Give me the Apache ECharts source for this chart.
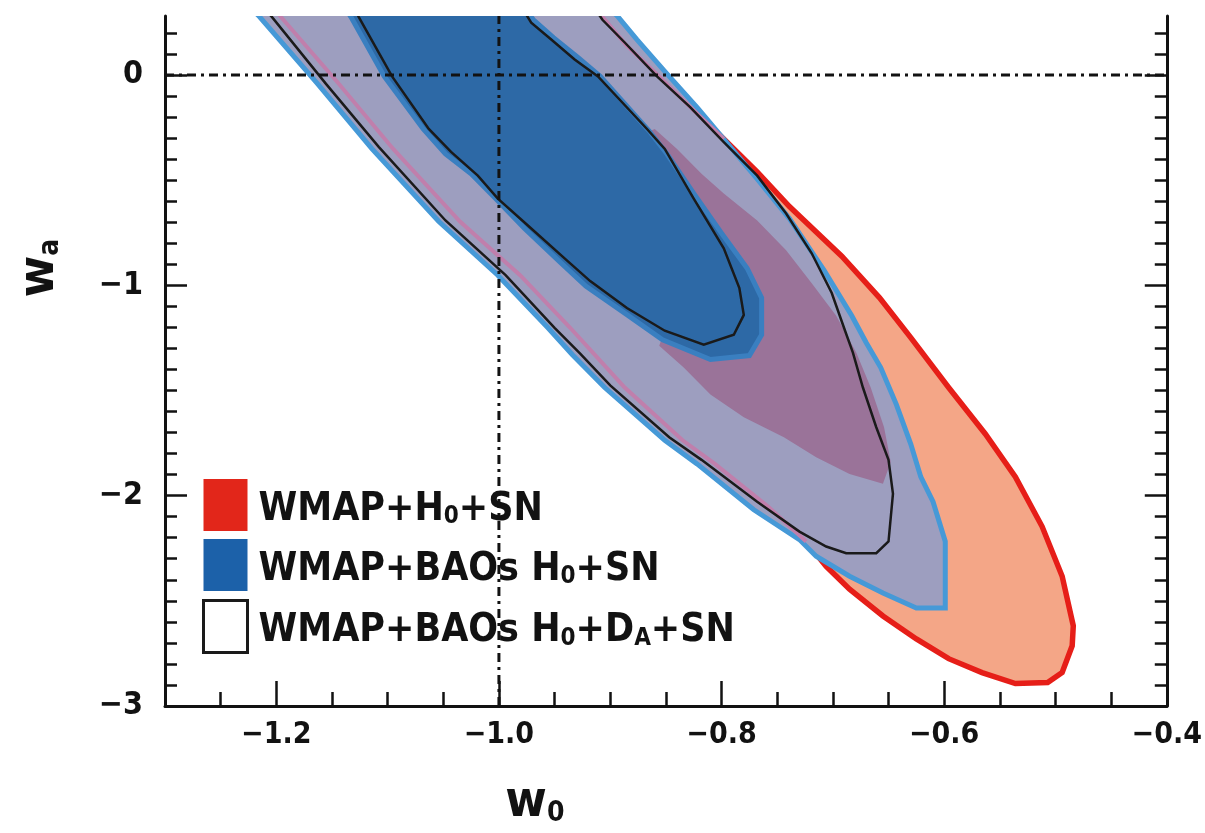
<!DOCTYPE html>
<html>
<head>
<meta charset="utf-8">
<script src="https://cdn.jsdelivr.net/npm/echarts@6/dist/echarts.min.js"></script>
<style>
html,body{margin:0;padding:0;background:#fff;}
#chart{width:1205px;height:833px;}
</style>
</head>
<body>
<div id="chart"></div>
<script>
// ---- axis ranges and ticks ----
const X_MIN = -1.3, X_MAX = -0.4;
const Y_MIN = -3, Y_MAX = 0.28;
const W0_MAJOR = [-1.2, -1.0, -0.8, -0.6, -0.4];
const WA_MAJOR = [-3, -2, -1, 0];
const W0_MINOR_STEP = 0.05;
const WA_MINOR_STEP = 0.1;

// ---- reference lines ----
const REF_W0 = -1.0;
const REF_WA = 0.0;

// ---- legend ----
const LEGEND_NAMES = ['WMAP+H0+SN', 'WMAP+BAOs H0+SN', 'WMAP+BAOs H0+DA+SN'];

// ---- contour boundaries [w0, wa] ----
// WMAP+H0+SN, 95% region
const red95 = [
  [-1.201, 0.309], [-1.196, 0.276], [-1.145, -0.035], [-1.095, -0.352], [-1.035, -0.697],
  [-0.981, -0.952], [-0.936, -1.202], [-0.914, -1.330], [-0.887, -1.486], [-0.835, -1.737],
  [-0.806, -1.849], [-0.758, -2.053], [-0.724, -2.218], [-0.706, -2.336], [-0.685, -2.445],
  [-0.655, -2.572], [-0.625, -2.681], [-0.596, -2.775], [-0.566, -2.841], [-0.536, -2.893],
  [-0.507, -2.888], [-0.494, -2.841], [-0.485, -2.714], [-0.484, -2.619], [-0.494, -2.383],
  [-0.512, -2.147], [-0.536, -1.911], [-0.563, -1.707], [-0.596, -1.486], [-0.630, -1.249],
  [-0.658, -1.060], [-0.692, -0.862], [-0.739, -0.626], [-0.768, -0.461], [-0.798, -0.305],
  [-0.826, -0.163], [-0.858, 0.002], [-0.886, 0.144], [-0.907, 0.276], [-0.911, 0.309]
];
// WMAP+H0+SN, 68% region (visible part)
const red68 = [
  [-0.831, -0.919], [-0.831, -0.683], [-0.853, -0.446], [-0.871, -0.281], [-0.860, -0.257],
  [-0.840, -0.352], [-0.818, -0.470], [-0.798, -0.564], [-0.768, -0.692], [-0.742, -0.834],
  [-0.719, -0.990], [-0.697, -1.145], [-0.679, -1.320], [-0.666, -1.486], [-0.654, -1.675],
  [-0.648, -1.840], [-0.655, -1.944], [-0.685, -1.897], [-0.715, -1.817], [-0.744, -1.722],
  [-0.780, -1.627], [-0.810, -1.519], [-0.834, -1.391], [-0.856, -1.287]
];
// WMAP+BAOs H0+SN, 95% region
const blue95 = [
  [-1.221, 0.309], [-1.215, 0.276], [-1.164, -0.035], [-1.114, -0.352], [-1.054, -0.697],
  [-1.001, -0.952], [-0.956, -1.202], [-0.934, -1.330], [-0.905, -1.486], [-0.851, -1.737],
  [-0.822, -1.849], [-0.771, -2.067], [-0.730, -2.209], [-0.715, -2.288], [-0.685, -2.383],
  [-0.655, -2.463], [-0.625, -2.534], [-0.599, -2.534], [-0.599, -2.218], [-0.610, -2.029],
  [-0.621, -1.911], [-0.630, -1.755], [-0.643, -1.566], [-0.657, -1.391], [-0.670, -1.273],
  [-0.683, -1.145], [-0.708, -0.928], [-0.739, -0.683], [-0.768, -0.494], [-0.798, -0.305],
  [-0.822, -0.154], [-0.851, 0.017], [-0.876, 0.168], [-0.893, 0.276], [-0.899, 0.309]
];
// WMAP+BAOs H0+SN, 68% region
const blue68 = [
  [-1.137, 0.309], [-1.133, 0.276], [-1.103, -0.007], [-1.068, -0.257], [-1.048, -0.376],
  [-1.025, -0.470], [-1.003, -0.588], [-0.977, -0.730], [-0.945, -0.890], [-0.922, -1.004],
  [-0.886, -1.136], [-0.853, -1.259], [-0.810, -1.353], [-0.775, -1.334], [-0.764, -1.235],
  [-0.764, -1.060], [-0.777, -0.919], [-0.800, -0.753], [-0.825, -0.564], [-0.849, -0.376],
  [-0.865, -0.267], [-0.909, -0.007], [-0.929, 0.083], [-0.951, 0.177], [-0.969, 0.262],
  [-0.976, 0.309]
];
// WMAP+BAOs H0+DA+SN, 95% contour
const black95 = [
  [-1.210, 0.309], [-1.204, 0.276], [-1.155, -0.045], [-1.108, -0.342], [-1.048, -0.692],
  [-0.994, -0.952], [-0.950, -1.202], [-0.927, -1.325], [-0.900, -1.476], [-0.847, -1.722],
  [-0.818, -1.830], [-0.768, -2.029], [-0.730, -2.171], [-0.706, -2.242], [-0.688, -2.274],
  [-0.661, -2.274], [-0.650, -2.218], [-0.646, -1.991], [-0.650, -1.830], [-0.661, -1.675],
  [-0.673, -1.486], [-0.682, -1.320], [-0.690, -1.202], [-0.701, -1.037], [-0.719, -0.848],
  [-0.742, -0.659], [-0.768, -0.479], [-0.798, -0.319], [-0.828, -0.154], [-0.858, -0.007],
  [-0.887, 0.154], [-0.907, 0.262], [-0.913, 0.309]
];
// WMAP+BAOs H0+DA+SN, 68% contour
const black68 = [
  [-1.129, 0.309], [-1.126, 0.276], [-1.096, -0.007], [-1.063, -0.257], [-1.043, -0.366],
  [-1.019, -0.479], [-1.001, -0.588], [-0.974, -0.716], [-0.941, -0.872], [-0.918, -0.980],
  [-0.885, -1.108], [-0.851, -1.216], [-0.816, -1.282], [-0.789, -1.235], [-0.780, -1.141],
  [-0.784, -1.013], [-0.798, -0.824], [-0.825, -0.588], [-0.851, -0.352], [-0.867, -0.257],
  [-0.911, -0.007], [-0.932, 0.073], [-0.953, 0.168], [-0.971, 0.248], [-0.978, 0.309]
];

// ---------------------------------------------------------------
const FONT = '"Liberation Sans Narrow","DejaVu Sans Condensed","Liberation Sans",Arial,sans-serif';
const INK = '#121212';

function stepTicks(a, b, step) {
  const out = [];
  const n = Math.round((b - a) / step);
  for (let i = 0; i <= n; i++) out.push(+(a + i * step).toFixed(3));
  return out;
}
const W0_MINOR = stepTicks(X_MIN, X_MAX, W0_MINOR_STEP);
const WA_MINOR = stepTicks(Y_MIN, 0.2, WA_MINOR_STEP);

function shapeSeries(name, pts, kind, style, z) {
  return {
    type: 'custom', name: name, coordinateSystem: 'cartesian2d',
    xAxisIndex: 0, yAxisIndex: 0, data: pts, encode: { x: 0, y: 1 },
    silent: true, clip: true, z: z, animation: false,
    renderItem: function (params, api) {
      if (params.dataIndex !== 0) return null;
      const cs = params.coordSys;
      const points = pts.map(function (p) { return api.coord(p); });
      return {
        type: kind,
        shape: { points: points },
        style: style,
        clipPath: { type: 'rect', shape: { x: cs.x, y: cs.y, width: cs.width, height: cs.height } }
      };
    }
  };
}

const series = [
  shapeSeries(LEGEND_NAMES[0], red95, 'polygon', { fill: '#F4A687', stroke: '#E61E18', lineWidth: 5.5 }, 1),
  shapeSeries(LEGEND_NAMES[1], blue95, 'polygon', { fill: '#9D9EBF', stroke: '#4699D7', lineWidth: 5 }, 2),
  shapeSeries('', red95.slice(0, 13), 'polyline', { fill: null, stroke: '#C07FAC', lineWidth: 4 }, 3),
  shapeSeries('', red95.slice(34), 'polyline', { fill: null, stroke: '#C07FAC', lineWidth: 4 }, 3),
  shapeSeries(LEGEND_NAMES[0], red68, 'polygon', { fill: '#9A7399' }, 4),
  shapeSeries(LEGEND_NAMES[1], blue68, 'polygon', { fill: '#2D69A6', stroke: '#3A7FC0', lineWidth: 5 }, 5),
  shapeSeries(LEGEND_NAMES[2], black95, 'polygon', { fill: null, stroke: '#1a1a1a', lineWidth: 2.5 }, 6),
  shapeSeries(LEGEND_NAMES[2], black68, 'polygon', { fill: null, stroke: '#1a1a1a', lineWidth: 2.5 }, 6),
  {
    type: 'line', name: 'refw0', data: [[REF_W0, Y_MIN], [REF_W0, Y_MAX]], symbol: 'none', silent: true,
    z: 8, animation: false, lineStyle: { color: INK, width: 3, type: [9, 5, 3, 5] }
  },
  {
    type: 'line', name: 'refwa', data: [[X_MIN, REF_WA], [X_MAX, REF_WA]], symbol: 'none', silent: true,
    z: 8, animation: false, lineStyle: { color: INK, width: 3, type: [9, 5, 3, 5] }
  }
];

const minus = function (v) { return v < 0 ? '\u2212' + Math.abs(v) : String(v); };

const axisLineStyle = { show: true, onZero: false, lineStyle: { color: INK, width: 3 } };
const noLine = { show: false, onZero: false };

const option = {
  backgroundColor: '#fff',
  animation: false,
  grid: { left: 165, right: 33, top: 16, bottom: 121, containLabel: false },
  legend: {
    show: true, orient: 'vertical', left: 197, top: 474, icon: 'rect',
    itemWidth: 44, itemHeight: 52, itemGap: 8, selectedMode: false,
    data: [
      { name: LEGEND_NAMES[0], itemStyle: { color: '#E2261A', borderWidth: 0 } },
      { name: LEGEND_NAMES[1], itemStyle: { color: '#1C61A9', borderWidth: 0 } },
      { name: LEGEND_NAMES[2], itemStyle: { color: '#ffffff', borderColor: '#1a1a1a', borderWidth: 3 } }
    ],
    formatter: function (name) {
      if (name === LEGEND_NAMES[0]) return '{t|WMAP+H}{s|0}{t|+SN}';
      if (name === LEGEND_NAMES[1]) return '{t|WMAP+BAOs H}{s|0}{t|+SN}';
      return '{t|WMAP+BAOs H}{s|0}{t|+D}{s|A}{t|+SN}';
    },
    textStyle: {
      padding: [0, 0, 0, 6],
      rich: {
        t: { fontFamily: FONT, fontWeight: 'bold', fontSize: 39, color: INK, lineHeight: 48, verticalAlign: 'bottom' },
        s: { fontFamily: FONT, fontWeight: 'bold', fontSize: 24, color: INK, lineHeight: 12, verticalAlign: 'bottom' }
      }
    }
  },
  xAxis: [
    {
      type: 'value', min: X_MIN, max: X_MAX, position: 'bottom',
      axisLine: axisLineStyle,
      axisTick: { show: true, inside: true, length: 25, customValues: W0_MAJOR, lineStyle: { color: INK, width: 2.5 } },
      axisLabel: {
        show: true, customValues: W0_MAJOR, margin: 14, color: INK,
        fontFamily: FONT, fontWeight: 'bold', fontSize: 30,
        formatter: function (v) { return '\u2212' + Math.abs(v).toFixed(1); }
      },
      splitLine: { show: false },
      name: '{t|w}{s|0}', nameLocation: 'middle', nameGap: 72,
      nameTextStyle: {
        padding: [0, 262, 0, 0],
        rich: {
          t: { fontFamily: FONT, fontWeight: 'bold', fontSize: 50, color: INK, lineHeight: 50, verticalAlign: 'bottom' },
          s: { fontFamily: FONT, fontWeight: 'bold', fontSize: 28, color: INK, lineHeight: 12, verticalAlign: 'bottom' }
        }
      }
    },
    {
      type: 'value', min: X_MIN, max: X_MAX, position: 'bottom',
      axisLine: noLine,
      axisTick: { show: true, inside: true, length: 14, customValues: W0_MINOR, lineStyle: { color: INK, width: 2.5 } },
      axisLabel: { show: false }, splitLine: { show: false }
    }
  ],
  yAxis: [
    {
      type: 'value', min: Y_MIN, max: Y_MAX, position: 'left',
      axisLine: axisLineStyle,
      axisTick: { show: true, inside: true, length: 22, customValues: WA_MAJOR, lineStyle: { color: INK, width: 2.5 } },
      axisLabel: {
        show: true, customValues: WA_MAJOR, margin: 22, color: INK,
        fontFamily: FONT, fontWeight: 'bold', fontSize: 32, formatter: minus
      },
      splitLine: { show: false },
      name: '{t|w}{s|a}', nameLocation: 'middle', nameRotate: 90, nameGap: 100,
      nameTextStyle: {
        padding: [0, 0, 0, 186],
        rich: {
          t: { fontFamily: FONT, fontWeight: 'bold', fontSize: 50, color: INK, lineHeight: 50, verticalAlign: 'bottom' },
          s: { fontFamily: FONT, fontWeight: 'bold', fontSize: 28, color: INK, lineHeight: 12, verticalAlign: 'bottom' }
        }
      }
    },
    {
      type: 'value', min: Y_MIN, max: Y_MAX, position: 'left',
      axisLine: noLine,
      axisTick: { show: true, inside: true, length: 12, customValues: WA_MINOR, lineStyle: { color: INK, width: 2.5 } },
      axisLabel: { show: false }, splitLine: { show: false }
    },
    {
      type: 'value', min: Y_MIN, max: Y_MAX, position: 'right',
      axisLine: axisLineStyle,
      axisTick: { show: true, inside: true, length: 22, customValues: WA_MAJOR, lineStyle: { color: INK, width: 2.5 } },
      axisLabel: { show: false }, splitLine: { show: false }
    },
    {
      type: 'value', min: Y_MIN, max: Y_MAX, position: 'right',
      axisLine: noLine,
      axisTick: { show: true, inside: true, length: 12, customValues: WA_MINOR, lineStyle: { color: INK, width: 2.5 } },
      axisLabel: { show: false }, splitLine: { show: false }
    }
  ],
  series: series
};

const chart = echarts.init(document.getElementById('chart'), null, { renderer: 'canvas' });
chart.setOption(option);
</script>
</body>
</html>
